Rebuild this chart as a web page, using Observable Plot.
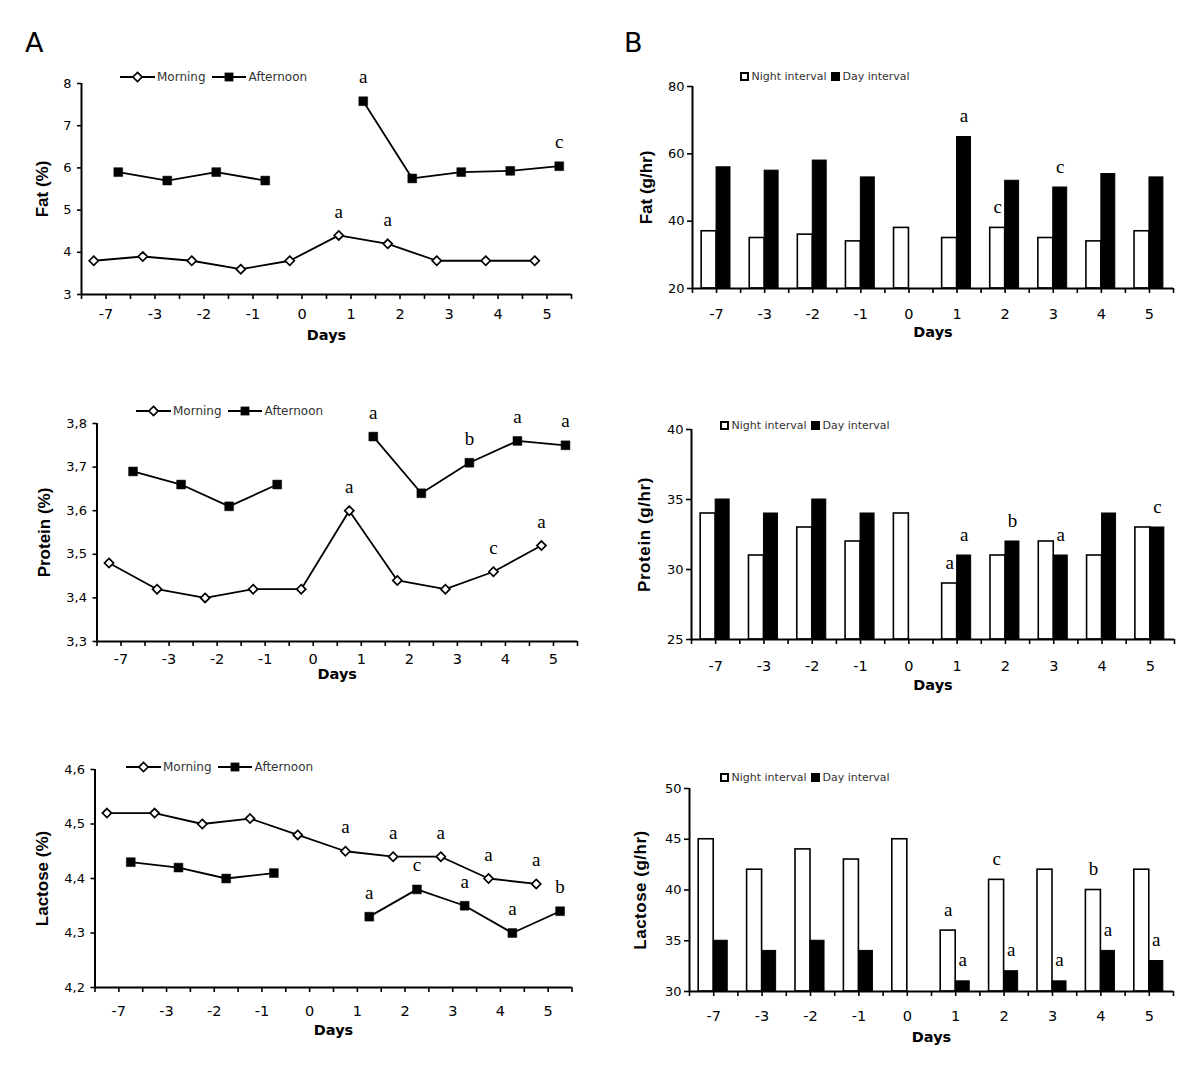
<!DOCTYPE html>
<html><head><meta charset="utf-8">
<script src="https://cdn.jsdelivr.net/npm/d3@7"></script>
<script src="https://cdn.jsdelivr.net/npm/@observablehq/plot@0.6"></script>
<style>
body{margin:0;background:#fff;}
#root{position:relative;width:1200px;height:1071px;overflow:hidden;font-family:"DejaVu Sans",sans-serif;background:#fff;}
.panel{position:absolute;}
.leg{position:absolute;display:flex;align-items:center;color:#333;white-space:nowrap;font-family:"DejaVu Sans",sans-serif;}
.big{position:absolute;font-size:27px;line-height:27px;font-family:"DejaVu Sans",sans-serif;}
</style></head><body><div id="root"></div>
<script>
// ---------- data ----------
const days = ["-7","-3","-2","-1","0","1","2","3","4","5"];

// Panel A: milk composition (%)
const fatPctMorning   = [3.8, 3.9, 3.8, 3.6, 3.8, 4.4, 4.2, 3.8, 3.8, 3.8];
const fatPctAfternoon = [5.9, 5.7, 5.9, 5.7, null, 7.58, 5.75, 5.9, 5.93, 6.04];
const fatPctTicks = [3, 4, 5, 6, 7, 8];
const fatPctLetters = [["Afternoon","1","a"],["Afternoon","5","c"],["Morning","1","a"],["Morning","2","a"]];

const protPctMorning   = [3.48, 3.42, 3.40, 3.42, 3.42, 3.60, 3.44, 3.42, 3.46, 3.52];
const protPctAfternoon = [3.69, 3.66, 3.61, 3.66, null, 3.77, 3.64, 3.71, 3.76, 3.75];
const protPctTicks = [3.3, 3.4, 3.5, 3.6, 3.7, 3.8];
const protPctLetters = [["Afternoon","1","a"],["Afternoon","3","b"],["Afternoon","4","a"],["Afternoon","5","a"],
                        ["Morning","1","a"],["Morning","4","c"],["Morning","5","a"]];

const lacPctMorning   = [4.52, 4.52, 4.50, 4.51, 4.48, 4.45, 4.44, 4.44, 4.40, 4.39];
const lacPctAfternoon = [4.43, 4.42, 4.40, 4.41, null, 4.33, 4.38, 4.35, 4.30, 4.34];
const lacPctTicks = [4.2, 4.3, 4.4, 4.5, 4.6];
const lacPctLetters = [["Morning","1","a"],["Morning","2","a"],["Morning","3","a"],["Morning","4","a"],["Morning","5","a"],
                       ["Afternoon","1","a"],["Afternoon","2","c"],["Afternoon","3","a"],["Afternoon","4","a"],["Afternoon","5","b"]];

// Panel B: yields (g/hr)
const fatNight = [37, 35, 36, 34, 38, 35, 38, 35, 34, 37];
const fatDay   = [56, 55, 58, 53, null, 65, 52, 50, 54, 53];
const fatGhTicks = [20, 40, 60, 80];
const fatGhLetters = [["Day","1","a"],["Night","2","c"],["Day","3","c"]];

const protNight = [34, 31, 33, 32, 34, 29, 31, 32, 31, 33];
const protDay   = [35, 34, 35, 34, null, 31, 32, 31, 34, 33];
const protGhTicks = [25, 30, 35, 40];
const protGhLetters = [["Night","1","a"],["Day","1","a"],["Day","2","b"],["Day","3","a"],["Day","5","c"]];

const lacNight = [45, 42, 44, 43, 45, 36, 41, 42, 40, 42];
const lacDay   = [35, 34, 35, 34, null, 31, 32, 31, 34, 33];
const lacGhTicks = [30, 35, 40, 45, 50];
const lacGhLetters = [["Night","1","a"],["Day","1","a"],["Night","2","c"],["Day","2","a"],["Day","3","a"],
                      ["Night","4","b"],["Day","4","a"],["Day","5","a"]];

// ---------- helpers ----------
const root = document.getElementById("root");
const SANS = "DejaVu Sans, sans-serif";
const TITLE = "Liberation Sans, Arial, sans-serif";
const SERIF = "Liberation Serif, Times New Roman, serif";
const comma = d => d.toFixed(1).replace(".", ",");

function place(el, left, top) {
  el.style.position = "absolute"; el.style.left = left + "px"; el.style.top = top + "px";
  root.appendChild(el);
}

function commonAxes(p) {
  return [
    Plot.axisY({ticks: p.yTicks, tickFormat: p.fmt, tickSize: p.ytick[0], tickPadding: p.ytick[1], fontSize: 13,
                strokeWidth: 1.6, label: null}),
    Plot.axisX({ticks: d3.range(0, 10.001, 0.5), tickFormat: () => "", tickSize: 5, strokeWidth: 1.6, label: null}),
    Plot.axisX({ticks: days.map((d, i) => i + 0.5), tickFormat: v => days[Math.round(v - 0.5)], tickSize: 0,
                tickPadding: p.labPad, fontSize: 14.5, label: null}),
    Plot.ruleY([p.yDomain[0]], {strokeWidth: 2}),
    Plot.ruleX([0], {strokeWidth: 2}),
    Plot.text([p.title], {frameAnchor: "left", textAnchor: "middle", lineAnchor: "middle", rotate: -90, dx: -p.titleDx,
                          fontWeight: "bold", fontSize: 17, fontFamily: TITLE}),
    Plot.text(["Days"], {frameAnchor: "bottom", textAnchor: "middle", lineAnchor: "middle", dy: p.daysDy,
                         fontWeight: "bold", fontSize: 14.5, fontFamily: SANS})
  ];
}

function frameOpts(p) {
  const mt = 45, mb = 62, W = 600;
  return {
    width: W, height: p.frame.B - p.frame.T + mt + mb,
    marginTop: mt, marginBottom: mb,
    marginLeft: p.frame.L - p.col, marginRight: W - (p.frame.R - p.col),
    style: {fontFamily: SANS, fontSize: "14px", background: "transparent", color: "black", overflow: "visible"},
    x: {domain: [0, 10]}, y: {domain: p.yDomain}
  };
}

function finish(svg, p) {
  if (p.spacing) {
    svg.querySelectorAll("text").forEach(t => { if (t.textContent === p.title) t.setAttribute("letter-spacing", p.spacing); });
  }
  const wrap = document.createElement("div"); wrap.className = "panel"; wrap.appendChild(svg);
  place(wrap, p.col, p.frame.T - 45);
}

function linePanel(p) {
  const mPts = days.map((d, i) => ({x: i + 0.25, y: p.morning[i]}));
  const aPts = days.map((d, i) => ({x: i + 0.75, y: p.afternoon[i]}));
  const lets = p.letters.map(([s, d, l]) => {
    const i = days.indexOf(d);
    return s === "Morning" ? {x: i + 0.25, y: p.morning[i], l} : {x: i + 0.75, y: p.afternoon[i], l};
  });
  const svg = Plot.plot({
    ...frameOpts(p),
    marks: [
      ...commonAxes(p),
      Plot.line(aPts, {x: "x", y: "y", stroke: "black", strokeWidth: 1.8}),
      Plot.line(mPts, {x: "x", y: "y", stroke: "black", strokeWidth: 1.8}),
      Plot.dot(aPts, {x: "x", y: "y", symbol: "square", r: 5, fill: "black", stroke: "black", strokeWidth: 0.5}),
      Plot.dot(mPts, {x: "x", y: "y", symbol: "diamond2", r: 4.1, fill: "white", stroke: "black", strokeWidth: 1.7}),
      Plot.text(lets, {x: "x", y: "y", text: "l", dy: -24, fontSize: 19, fontFamily: SERIF})
    ]
  });
  finish(svg, p);
  const lg = document.createElement("div"); lg.className = "leg"; lg.style.fontSize = "12px";
  lg.innerHTML =
    `<svg width="35" height="14"><line x1="0" x2="35" y1="7" y2="7" stroke="black" stroke-width="1.8"/>` +
    `<path d="M17.5,2.4L22.1,7L17.5,11.6L12.9,7Z" fill="white" stroke="black" stroke-width="1.7"/></svg>` +
    `<span style="margin-left:2px">Morning</span>` +
    `<svg width="34" height="14" style="margin-left:6px"><line x1="0" x2="34" y1="7" y2="7" stroke="black" stroke-width="1.8"/>` +
    `<rect x="12.6" y="2.6" width="8.8" height="8.8" fill="black"/></svg>` +
    `<span style="margin-left:3px">Afternoon</span>`;
  place(lg, p.legend[0], p.legend[1] - 7);
}

function barPanel(p) {
  const y0 = p.yDomain[0];
  const nBars = days.map((d, i) => ({x1: i + 0.19, x2: i + 0.5, y: p.night[i]}));
  const dBars = days.map((d, i) => ({x1: i + 0.5, x2: i + 0.79, y: p.day[i]})).filter(d => d.y != null);
  const lets = p.letters.map(([s, d, l]) => {
    const i = days.indexOf(d);
    return s === "Night" ? {x: i + 0.345, y: p.night[i], l} : {x: i + 0.645, y: p.day[i], l};
  });
  const svg = Plot.plot({
    ...frameOpts(p),
    marks: [
      Plot.rect(nBars, {x1: "x1", x2: "x2", y1: () => y0, y2: "y", fill: "white", stroke: "black", strokeWidth: 1.6}),
      Plot.rect(dBars, {x1: "x1", x2: "x2", y1: () => y0, y2: "y", fill: "black", stroke: "black", strokeWidth: 1}),
      ...commonAxes(p),
      Plot.text(lets, {x: "x", y: "y", text: "l", dy: -21, fontSize: 19, fontFamily: SERIF})
    ]
  });
  finish(svg, p);
  const lg = document.createElement("div"); lg.className = "leg"; lg.style.fontSize = "11px";
  lg.innerHTML =
    `<svg width="9" height="9"><rect x="1" y="1" width="7" height="7" fill="white" stroke="black" stroke-width="2"/></svg>` +
    `<span style="margin-left:3px">Night interval</span>` +
    `<svg width="9" height="9" style="margin-left:4px"><rect x="0" y="0" width="9" height="9" fill="black"/></svg>` +
    `<span style="margin-left:3px">Day interval</span>`;
  place(lg, p.legend[0] - 4.5, p.legend[1] - 8);
}

// ---------- panels ----------
linePanel({col: 0, frame: {L: 81, R: 571, T: 83, B: 294}, yDomain: [3, 8], yTicks: fatPctTicks, fmt: d => String(d),
  morning: fatPctMorning, afternoon: fatPctAfternoon, letters: fatPctLetters, title: "Fat (%)", ytick: [4, 6],
  titleDx: 39, labPad: 14, daysDy: 41, legend: [120, 77]});
linePanel({col: 0, frame: {L: 96.5, R: 577, T: 423, B: 641}, yDomain: [3.3, 3.8], yTicks: protPctTicks, fmt: comma,
  morning: protPctMorning, afternoon: protPctAfternoon, letters: protPctLetters, title: "Protein (%)", ytick: [4, 6],
  titleDx: 52, labPad: 12, daysDy: 33, legend: [136, 411]});
linePanel({col: 0, frame: {L: 94.5, R: 571.5, T: 769, B: 987}, yDomain: [4.2, 4.6], yTicks: lacPctTicks, fmt: comma,
  morning: lacPctMorning, afternoon: lacPctAfternoon, letters: lacPctLetters, title: "Lactose (%)", ytick: [4, 6],
  titleDx: 52, labPad: 18, daysDy: 43, legend: [126, 767]});

barPanel({col: 600, frame: {L: 692, R: 1173, T: 86, B: 288}, yDomain: [20, 80], yTicks: fatGhTicks, fmt: d => String(d),
  night: fatNight, day: fatDay, letters: fatGhLetters, title: "Fat (g/hr)", ytick: [5, 3],
  titleDx: 46, labPad: 20, daysDy: 44, legend: [744, 78]});
barPanel({col: 600, frame: {L: 691, R: 1174, T: 429, B: 639}, yDomain: [25, 40], yTicks: protGhTicks, fmt: d => String(d),
  night: protNight, day: protDay, letters: protGhLetters, title: "Protein (g/hr)", ytick: [5, 3], spacing: "0.6",
  titleDx: 47, labPad: 21, daysDy: 46, legend: [724, 427]});
barPanel({col: 600, frame: {L: 689, R: 1173, T: 788, B: 991}, yDomain: [30, 50], yTicks: lacGhTicks, fmt: d => String(d),
  night: lacNight, day: lacDay, letters: lacGhLetters, title: "Lactose (g/hr)", ytick: [5, 3], spacing: "0.5",
  titleDx: 49, labPad: 19, daysDy: 46, legend: [724, 779]});

// panel letters
const A = document.createElement("div"); A.className = "big"; A.textContent = "A"; place(A, 25, 29);
const B = document.createElement("div"); B.className = "big"; B.textContent = "B"; place(B, 624, 29);
</script></body></html>
